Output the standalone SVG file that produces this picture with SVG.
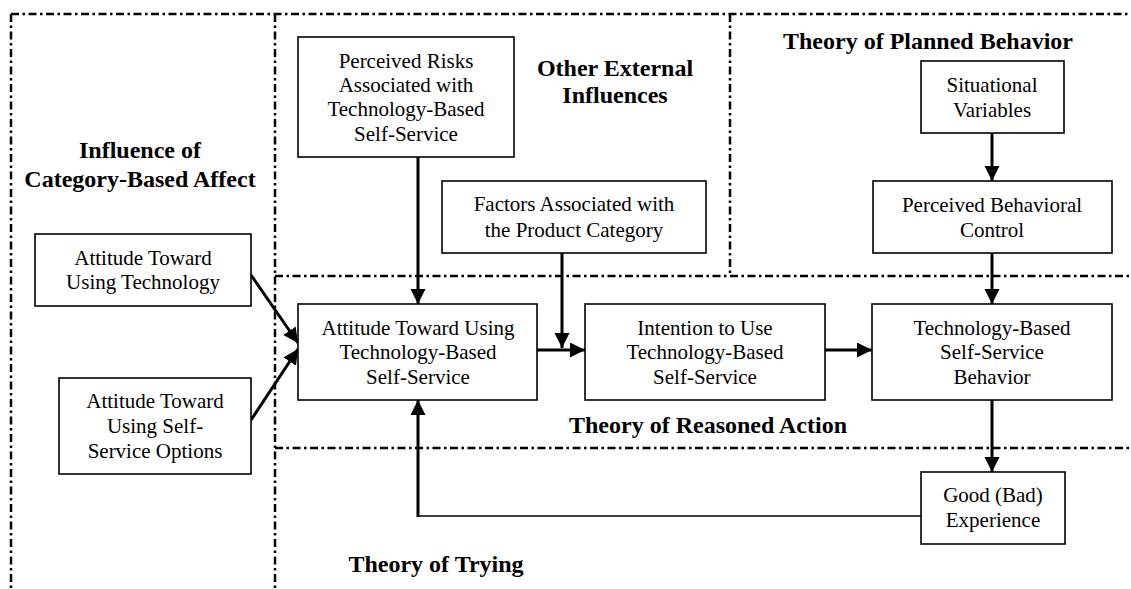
<svg xmlns="http://www.w3.org/2000/svg" width="1131" height="589" viewBox="0 0 1131 589">
<style>
.bg{fill:#fff}
.zone{fill:none;stroke:#000;stroke-width:2.5;stroke-dasharray:8 3.5 2.5 3.5}
.box{fill:#fff;stroke:#000;stroke-width:1.6}
.t{font-family:"Liberation Serif","Times New Roman",serif;font-size:21px;fill:#000;text-anchor:middle}
.h{font-family:"Liberation Serif","Times New Roman",serif;font-size:24px;font-weight:bold;fill:#000;text-anchor:middle}
.a{fill:none;stroke:#000;stroke-width:3}
.thin{fill:none;stroke:#000;stroke-width:1.6}
</style>
<defs>
<marker id="ah" markerUnits="userSpaceOnUse" markerWidth="16" markerHeight="16" viewBox="0 0 16 16" refX="15" refY="7.5" orient="auto">
<path d="M0,0 L15,7.5 L0,15 Z" fill="#000"/>
</marker>
</defs>
<rect class="bg" x="0" y="0" width="1131" height="589"/>
<g id="zones">
<path class="zone" d="M11,14 H1131"/>
<path class="zone" d="M11,14 V589"/>
<path class="zone" d="M275,14 V589"/>
<path class="zone" d="M730,14 V276"/>
<path class="zone" d="M275,276 H1131"/>
<path class="zone" d="M275,448 H1131"/>
</g>
<g id="zone-labels">
<text class="h" x="140" y="158">Influence of</text>
<text class="h" x="140" y="187">Category-Based Affect</text>
<text class="h" x="615" y="76">Other External</text>
<text class="h" x="615" y="103">Influences</text>
<text class="h" x="928" y="49">Theory of Planned Behavior</text>
<text class="h" x="708" y="433">Theory of Reasoned Action</text>
<text class="h" x="436" y="572">Theory of Trying</text>
</g>
<g id="connectors">
<path class="a" d="M418,157 V304" marker-end="url(#ah)"/>
<path class="a" d="M562,253 V348" marker-end="url(#ah)"/>
<path class="a" d="M537,350 H585" marker-end="url(#ah)"/>
<path class="a" d="M825,350 H872" marker-end="url(#ah)"/>
<path class="a" d="M992,133 V181" marker-end="url(#ah)"/>
<path class="a" d="M992,253 V304" marker-end="url(#ah)"/>
<path class="a" d="M992,400 V472" marker-end="url(#ah)"/>
<path class="thin" d="M921,516 H418"/>
<path class="a" d="M418,517 V400" marker-end="url(#ah)"/>
<path class="a" d="M251,275 L298,343" marker-end="url(#ah)"/>
<path class="a" d="M251,420 L298,349" marker-end="url(#ah)"/>
</g>
<g id="perceived-risks">
<rect class="box" x="298" y="37" width="216" height="120"/>
<text class="t" x="406" y="68">Perceived Risks</text>
<text class="t" x="406" y="92">Associated with</text>
<text class="t" x="406" y="116">Technology-Based</text>
<text class="t" x="406" y="141">Self-Service</text>
</g>
<g id="situational-variables">
<rect class="box" x="921" y="61" width="143" height="72"/>
<text class="t" x="992" y="92">Situational</text>
<text class="t" x="992" y="117">Variables</text>
</g>
<g id="perceived-behavioral-control">
<rect class="box" x="873" y="181" width="239" height="72"/>
<text class="t" x="992" y="212">Perceived Behavioral</text>
<text class="t" x="992" y="237">Control</text>
</g>
<g id="product-category-factors">
<rect class="box" x="442" y="181" width="264" height="72"/>
<text class="t" x="574" y="211">Factors Associated with</text>
<text class="t" x="574" y="237">the Product Category</text>
</g>
<g id="attitude-technology">
<rect class="box" x="35" y="234" width="216" height="72"/>
<text class="t" x="143" y="265">Attitude Toward</text>
<text class="t" x="143" y="289">Using Technology</text>
</g>
<g id="attitude-self-service">
<rect class="box" x="59" y="378" width="192" height="96"/>
<text class="t" x="155" y="408">Attitude Toward</text>
<text class="t" x="155" y="433">Using Self-</text>
<text class="t" x="155" y="458">Service Options</text>
</g>
<g id="attitude-tbss">
<rect class="box" x="298" y="304" width="239" height="96"/>
<text class="t" x="418" y="335">Attitude Toward Using</text>
<text class="t" x="418" y="359">Technology-Based</text>
<text class="t" x="418" y="384">Self-Service</text>
</g>
<g id="intention">
<rect class="box" x="585" y="304" width="240" height="96"/>
<text class="t" x="705" y="335">Intention to Use</text>
<text class="t" x="705" y="359">Technology-Based</text>
<text class="t" x="705" y="384">Self-Service</text>
</g>
<g id="behavior">
<rect class="box" x="872" y="304" width="240" height="96"/>
<text class="t" x="992" y="335">Technology-Based</text>
<text class="t" x="992" y="359">Self-Service</text>
<text class="t" x="992" y="384">Behavior</text>
</g>
<g id="experience">
<rect class="box" x="921" y="472" width="144" height="72"/>
<text class="t" x="993" y="502">Good (Bad)</text>
<text class="t" x="993" y="527">Experience</text>
</g>
</svg>
